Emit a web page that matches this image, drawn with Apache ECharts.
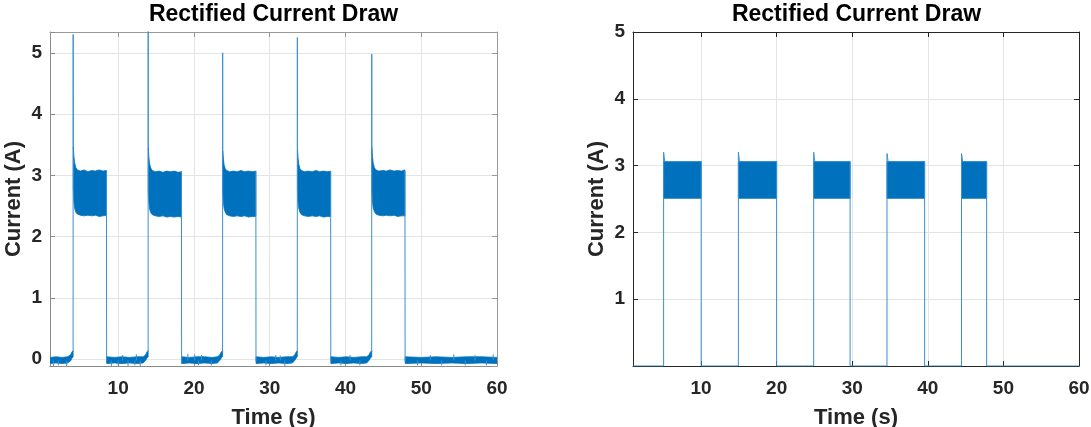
<!DOCTYPE html>
<html><head><meta charset="utf-8">
<script src="https://cdn.jsdelivr.net/npm/echarts@6/dist/echarts.min.js"></script>
<style>html,body{margin:0;padding:0;background:#fff}#c{width:1091px;height:427px}</style>
</head><body><div id="c"></div>
<script>
const FONT = "'Liberation Sans', Arial, Helvetica, sans-serif";
const BLUE = '#0072BD';
const THIN = '#3b8fd2';
const titleText = 'Rectified Current Draw';
const xName = 'Time (s)';
const yName = 'Current (A)';

// ---------- left panel (measured) ----------
const leftRise = [4.06, 13.96, 23.79, 33.65, 43.47];
const leftFall = [8.47, 18.37, 28.19, 38.06, 47.87];
const leftPeak = [5.30, 5.45, 5.00, 5.25, 4.98];
const leftTop1 = [[4.07,3.47],[4.15,3.32],[4.25,3.21],[4.4,3.13],[4.6,3.09],[5.0,3.07],[5.5,3.09],[6.0,3.06],[6.5,3.08],[7.0,3.07],[7.5,3.09],[8.0,3.07],[8.45,3.08]];
const leftBot1 = [[4.07,2.78],[4.15,2.58],[4.25,2.47],[4.4,2.40],[4.6,2.37],[5.0,2.35],[5.5,2.34],[6.0,2.35],[6.5,2.34],[7.0,2.35],[7.5,2.33],[8.0,2.34],[8.45,2.35]];
const leftTop2 = [[13.97,3.45],[14.05,3.30],[14.15,3.19],[14.3,3.12],[14.5,3.08],[14.9,3.06],[15.4,3.07],[15.9,3.05],[16.4,3.07],[16.9,3.06],[17.4,3.07],[17.9,3.05],[18.35,3.06]];
const leftBot2 = [[13.97,2.75],[14.05,2.56],[14.15,2.45],[14.3,2.39],[14.5,2.36],[14.9,2.34],[15.4,2.33],[15.9,2.34],[16.4,2.32],[16.9,2.33],[17.4,2.32],[17.9,2.33],[18.35,2.32]];
const leftTop3 = [[23.80,3.40],[23.88,3.27],[23.98,3.17],[24.13,3.11],[24.33,3.08],[24.7,3.06],[25.2,3.07],[25.7,3.06],[26.2,3.08],[26.7,3.06],[27.2,3.07],[27.7,3.06],[28.17,3.07]];
const leftBot3 = [[23.80,2.76],[23.88,2.57],[23.98,2.46],[24.13,2.40],[24.33,2.36],[24.7,2.34],[25.2,2.33],[25.7,2.34],[26.2,2.33],[26.7,2.34],[27.2,2.32],[27.7,2.33],[28.17,2.33]];
const leftTop4 = [[33.66,3.44],[33.74,3.29],[33.84,3.18],[33.99,3.11],[34.19,3.08],[34.6,3.06],[35.1,3.07],[35.6,3.06],[36.1,3.08],[36.6,3.06],[37.1,3.07],[37.6,3.06],[38.04,3.07]];
const leftBot4 = [[33.66,2.77],[33.74,2.57],[33.84,2.46],[33.99,2.40],[34.19,2.36],[34.6,2.34],[35.1,2.33],[35.6,2.34],[36.1,2.33],[36.6,2.34],[37.1,2.32],[37.6,2.33],[38.04,2.33]];
const leftTop5 = [[43.48,3.46],[43.56,3.31],[43.66,3.20],[43.81,3.13],[44.01,3.09],[44.4,3.07],[44.9,3.08],[45.4,3.07],[45.9,3.09],[46.4,3.07],[46.9,3.08],[47.4,3.07],[47.85,3.09]];
const leftBot5 = [[43.48,2.78],[43.56,2.58],[43.66,2.47],[43.81,2.41],[44.01,2.37],[44.4,2.35],[44.9,2.34],[45.4,2.35],[45.9,2.34],[46.4,2.35],[46.9,2.33],[47.4,2.34],[47.85,2.34]];
// baseline (off-period) noise bands
const leftBaseHigh0 = [[1.0,0.03],[1.8,0.04],[2.6,0.03],[3.3,0.04],[3.7,0.07],[3.9,0.12],[4.05,0.14]];
const leftBaseLow0  = [[1.0,-0.07],[1.8,-0.06],[2.6,-0.07],[3.3,-0.06],[3.7,-0.03],[3.9,0.02],[4.05,0.04]];
const leftBaseHigh1 = [[8.48,0.04],[9.5,0.03],[10.5,0.04],[11.5,0.03],[12.5,0.04],[13.3,0.04],[13.6,0.07],[13.8,0.12],[13.95,0.14]];
const leftBaseLow1  = [[8.48,-0.07],[9.5,-0.06],[10.5,-0.07],[11.5,-0.06],[12.5,-0.07],[13.3,-0.06],[13.6,-0.02],[13.8,0.02],[13.95,0.04]];
const leftBaseHigh2 = [[18.38,0.04],[19.4,0.03],[20.4,0.04],[21.4,0.04],[22.4,0.03],[23.1,0.04],[23.4,0.07],[23.6,0.12],[23.78,0.14]];
const leftBaseLow2  = [[18.38,-0.07],[19.4,-0.06],[20.4,-0.07],[21.4,-0.06],[22.4,-0.07],[23.1,-0.06],[23.4,-0.02],[23.6,0.02],[23.78,0.04]];
const leftBaseHigh3 = [[28.2,0.04],[29.2,0.03],[30.2,0.04],[31.2,0.03],[32.2,0.04],[33.0,0.04],[33.3,0.07],[33.5,0.12],[33.64,0.14]];
const leftBaseLow3  = [[28.2,-0.07],[29.2,-0.06],[30.2,-0.07],[31.2,-0.06],[32.2,-0.07],[33.0,-0.06],[33.3,-0.02],[33.5,0.02],[33.64,0.04]];
const leftBaseHigh4 = [[38.07,0.04],[39.1,0.03],[40.1,0.04],[41.1,0.03],[42.1,0.04],[42.8,0.04],[43.1,0.07],[43.3,0.12],[43.46,0.14]];
const leftBaseLow4  = [[38.07,-0.07],[39.1,-0.06],[40.1,-0.07],[41.1,-0.06],[42.1,-0.07],[42.8,-0.06],[43.1,-0.02],[43.3,0.02],[43.46,0.04]];
const leftBaseHigh5 = [[47.88,0.04],[50,0.03],[52,0.04],[54,0.03],[56,0.04],[58,0.04],[60,0.03]];
const leftBaseLow5  = [[47.88,-0.07],[50,-0.06],[52,-0.07],[54,-0.06],[56,-0.07],[58,-0.06],[60,-0.07]];
// isolated noise excursions seen on the baseline [time, value]
const leftNoise = [[1.45,-0.11],[2.1,-0.1],[3.2,-0.11],[9.1,-0.11],[10.0,-0.1],[11.3,-0.11],[12.2,-0.1],[12.9,-0.11],[10.6,0.07],[12.4,0.08],
  [19.2,0.09],[20.1,0.08],[21.0,0.07],[20.6,-0.1],[22.3,-0.1],[29.5,-0.1],[30.8,0.07],[32.0,-0.11],[31.4,0.06],[39.4,-0.1],[40.6,0.07],[41.9,-0.1],
  [49.5,-0.1],[51.2,0.07],[52.7,-0.1],[54.3,0.08],[55.8,-0.1],[57.1,0.07],[58.6,-0.1],[59.5,0.08]];

// ---------- right panel (simulated) ----------
const rightRise = [5.05, 14.94, 24.90, 34.60, 44.46];
const rightFall = [10.02, 20.00, 29.72, 39.58, 47.78];
const rightPeak = [3.20, 3.20, 3.20, 3.18, 3.18];
const rightTopLevel = [3.06, 3.06, 3.06, 3.06, 3.06];
const rightBottomLevel = [2.51, 2.51, 2.51, 2.51, 2.51];

// ---------- build bands and traces ----------
const leftBands = [
  {top:leftTop1,bottom:leftBot1},{top:leftTop2,bottom:leftBot2},{top:leftTop3,bottom:leftBot3},
  {top:leftTop4,bottom:leftBot4},{top:leftTop5,bottom:leftBot5},
  {top:leftBaseHigh0,bottom:leftBaseLow0},{top:leftBaseHigh1,bottom:leftBaseLow1},{top:leftBaseHigh2,bottom:leftBaseLow2},
  {top:leftBaseHigh3,bottom:leftBaseLow3},{top:leftBaseHigh4,bottom:leftBaseLow4},{top:leftBaseHigh5,bottom:leftBaseLow5}
];
const leftTops = [leftTop1,leftTop2,leftTop3,leftTop4,leftTop5];
const GAP = '-';
const leftTrace = [];
for (let i = 0; i < leftRise.length; i++) {
  leftTrace.push([leftRise[i] - 0.01, 0.12], [leftRise[i], leftPeak[i]], [leftTops[i][0][0], leftTops[i][0][1]], [leftTops[i][0][0], GAP]);
  leftTrace.push([leftFall[i] - 0.02, 3.07], [leftFall[i], -0.03], [leftFall[i], GAP]);
}

const rightBands = rightRise.map((r, i) => ({
  top: [[r, rightTopLevel[i]], [rightFall[i], rightTopLevel[i]]],
  bottom: [[r, rightBottomLevel[i]], [rightFall[i], rightBottomLevel[i]]]
}));
const rightTrace = [[1.0, 0]];
for (let i = 0; i < rightRise.length; i++) {
  rightTrace.push([rightRise[i], 0], [rightRise[i], rightPeak[i]], [rightRise[i] + 0.15, rightTopLevel[i]],
                  [rightFall[i], rightTopLevel[i]], [rightFall[i], 0]);
}
rightTrace.push([60, 0]);

function bandRender(bands) {
  return function (params, api) {
    const b = bands[params.dataIndex];
    const pts = b.top.map(p => api.coord(p)).concat(b.bottom.slice().reverse().map(p => api.coord(p)));
    return {type: 'polygon', shape: {points: pts}, style: {fill: BLUE, stroke: BLUE, lineWidth: 0.8}};
  };
}
function noiseRender(params, api) {
  const p = leftNoise[params.dataIndex];
  const a = api.coord([p[0], -0.02]), b = api.coord(p);
  return {type: 'line', shape: {x1: a[0], y1: a[1], x2: b[0], y2: b[1]}, style: {stroke: THIN, lineWidth: 1}};
}

const chart = echarts.init(document.getElementById('c'), null, {renderer: 'canvas'});
const intLabel = (hideZero) => (v) => {
  const r = Math.round(v);
  if (Math.abs(v - r) > 1e-6) return '';
  if (hideZero && r === 0) return '';
  return String(r);
};
const xLabel = (v) => (Math.abs(v % 10) < 1e-6 && v > 0) ? String(Math.round(v)) : '';
const labelStyle = {fontFamily: FONT, fontWeight: 'bold', fontSize: 19, color: '#262626'};
const nameStyle = {fontFamily: FONT, fontWeight: 'bold', fontSize: 22, color: '#262626'};
const gridLine = {show: true, lineStyle: {color: '#e4e4e4', width: 1}};

function axesFor(gi, yMin, yMax, yInterval, hideZero, boxColor, sideColor) {
  const xs = [
    {type: 'value', gridIndex: gi, min: 1, max: 60, position: 'bottom',
     name: xName, nameLocation: 'middle', nameGap: 41, nameTextStyle: nameStyle,
     axisLine: {show: true, onZero: false, lineStyle: {color: boxColor, width: 1}},
     axisTick: {show: true, inside: true, length: 5, lineStyle: {color: boxColor}},
     axisLabel: Object.assign({margin: 13, formatter: xLabel, showMinLabel: true, showMaxLabel: true}, labelStyle),
     splitLine: gridLine},
    {type: 'value', gridIndex: gi, min: 1, max: 60, position: 'top',
     axisLine: {show: true, onZero: false, lineStyle: {color: sideColor, width: 1}},
     axisTick: {show: true, inside: true, length: 5, lineStyle: {color: sideColor}},
     axisLabel: {show: false}, splitLine: {show: false}}
  ];
  const yCommon = {type: 'value', gridIndex: gi, min: yMin, max: yMax};
  if (yInterval) yCommon.interval = yInterval;
  const ys = [
    Object.assign({}, yCommon, {position: 'left',
     name: yName, nameLocation: 'middle', nameGap: 25, nameTextStyle: nameStyle,
     axisLine: {show: true, onZero: false, lineStyle: {color: boxColor, width: 1}},
     axisTick: {show: true, inside: true, length: 5, lineStyle: {color: boxColor}},
     axisLabel: Object.assign({margin: 8, formatter: intLabel(hideZero), showMinLabel: true, showMaxLabel: true}, labelStyle),
     splitLine: gridLine}),
    Object.assign({}, yCommon, {position: 'right',
     axisLine: {show: true, onZero: false, lineStyle: {color: sideColor, width: 1}},
     axisTick: {show: true, inside: true, length: 5, lineStyle: {color: sideColor}},
     axisLabel: {show: false}, splitLine: {show: false}})
  ];
  return {xs, ys};
}
const A = axesFor(0, -0.11, 5.34, null, false, '#8a8a8a', '#9a9a9a');
const B = axesFor(1, 0, 5, 1, true, '#262626', '#262626');

const titleStyle = {fontFamily: FONT, fontWeight: 'bold', fontSize: 23, color: '#000'};
chart.setOption({
  animation: false,
  backgroundColor: '#fff',
  title: [
    {text: titleText, left: 273.5, top: 3, padding: 0, textAlign: 'center', textStyle: titleStyle},
    {text: titleText, left: 856.5, top: 3, padding: 0, textAlign: 'center', textStyle: titleStyle}
  ],
  grid: [
    {left: 50, top: 32, width: 447, height: 334, containLabel: false, outerBoundsMode: 'none'},
    {left: 633, top: 32, width: 446, height: 334, containLabel: false, outerBoundsMode: 'none'}
  ],
  xAxis: [A.xs[0], A.xs[1], B.xs[0], B.xs[1]],
  yAxis: [A.ys[0], A.ys[1], B.ys[0], B.ys[1]],
  series: [
    {type: 'custom', xAxisIndex: 0, yAxisIndex: 0, clip: true, z: 2,
     data: leftBands.map(b => [b.top[0][0], b.top[0][1]]), encode: {x: 0, y: 1},
     renderItem: bandRender(leftBands)},
    {type: 'custom', xAxisIndex: 0, yAxisIndex: 0, clip: true, z: 2,
     data: leftNoise, encode: {x: 0, y: 1}, renderItem: noiseRender},
    {type: 'line', xAxisIndex: 0, yAxisIndex: 0, data: leftTrace, showSymbol: false, symbol: 'none', z: 3,
     connectNulls: false, lineStyle: {color: THIN, width: 1}, clip: true},
    {type: 'custom', xAxisIndex: 2, yAxisIndex: 2, clip: true, z: 2,
     data: rightBands.map(b => [b.top[0][0], b.top[0][1]]), encode: {x: 0, y: 1},
     renderItem: bandRender(rightBands)},
    {type: 'line', xAxisIndex: 2, yAxisIndex: 2, data: rightTrace, showSymbol: false, symbol: 'none', z: 3,
     lineStyle: {color: THIN, width: 1}, clip: true}
  ]
});
</script></body></html>
